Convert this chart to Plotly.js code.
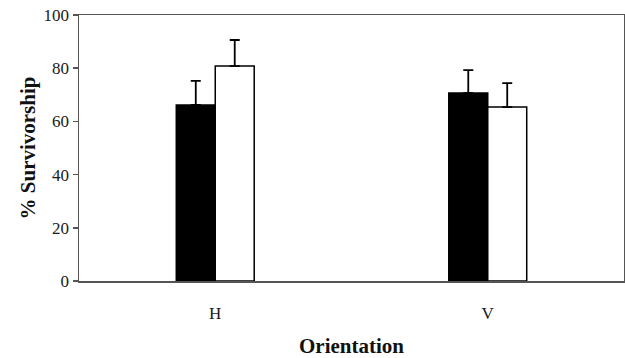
<!DOCTYPE html>
<html>
<head>
<meta charset="utf-8">
<script src="https://cdn.plot.ly/plotly-3.0.1.min.js"></script>
<style>html,body{margin:0;padding:0;background:#fff;}#chart{width:625px;height:358px;}</style>
</head>
<body>
<div id="chart"></div>
<script>
const categories = ["H", "V"];
const seriesA = [66.2, 70.7];
const seriesAErr = [9.0, 8.6];
const seriesB = [80.8, 65.4];
const seriesBErr = [9.8, 9.0];
const yTicks = [0, 20, 40, 60, 80, 100];

const serif = "Liberation Serif, Times New Roman, serif";

const traces = [
  {
    type: "bar", x: categories, y: seriesA, name: "A",
    marker: {color: "#000000", line: {color: "#000000", width: 1.5}},
    error_y: {type: "data", symmetric: false, array: seriesAErr, arrayminus: [0, 0], color: "#000", thickness: 1.8, width: 5}
  },
  {
    type: "bar", x: categories, y: seriesB, name: "B",
    marker: {color: "#ffffff", line: {color: "#000000", width: 1.5}},
    error_y: {type: "data", symmetric: false, array: seriesBErr, arrayminus: [0, 0], color: "#000", thickness: 1.8, width: 5}
  }
];

const layout = {
  width: 625, height: 358,
  margin: {l: 79, r: 1, t: 15, b: 77},
  paper_bgcolor: "#fff", plot_bgcolor: "#fff",
  showlegend: false,
  barmode: "group",
  bargap: 0.714,
  bargroupgap: 0,
  font: {family: serif, color: "#1a1a1a"},
  xaxis: {
    type: "category", range: [-0.5, 1.5],
    showline: true, linecolor: "#555", linewidth: 1.5, mirror: true,
    ticks: "", showgrid: false, zeroline: false,
    tickfont: {family: serif, size: 17, color: "#1a1a1a"},
    ticklabelstandoff: 16,
    title: {text: "<b>Orientation</b>", font: {family: serif, size: 21, color: "#111"}, standoff: 19}
  },
  yaxis: {
    range: [0, 100], tickvals: yTicks,
    showline: true, linecolor: "#555", linewidth: 1.5, mirror: true,
    ticks: "outside", ticklen: 5, tickwidth: 1.5, tickcolor: "#555",
    showgrid: false, zeroline: false,
    tickfont: {family: serif, size: 17, color: "#1a1a1a"},
    title: {text: "<b>% Survivorship</b>", font: {family: serif, size: 21, color: "#111"}, standoff: 2}
  }
};

Plotly.newPlot("chart", traces, layout, {displayModeBar: false, staticPlot: true});
</script>
</body>
</html>
